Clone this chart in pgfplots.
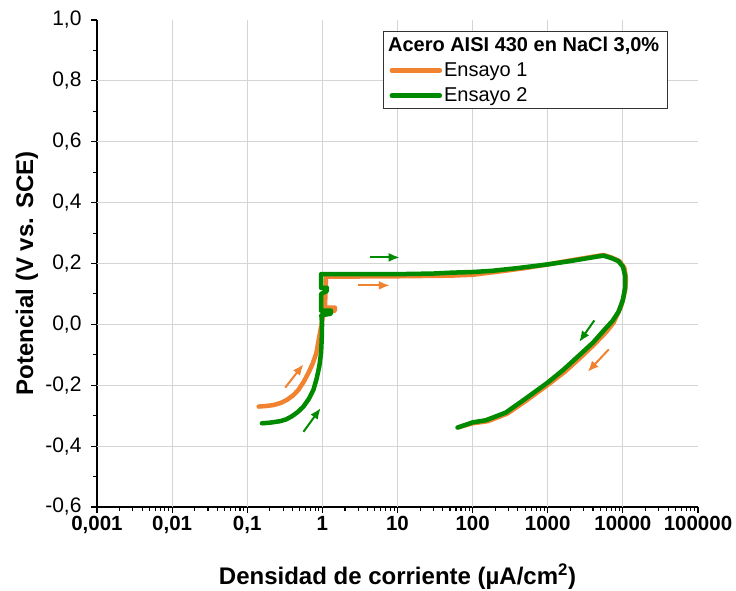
\documentclass[border=0pt]{standalone}
\usepackage{fontspec}
\setmainfont{Liberation Sans}
\usepackage{pgfplots}
\pgfplotsset{compat=1.18}
\usetikzlibrary{arrows.meta}
\definecolor{orng}{RGB}{240,130,48}
\definecolor{grn}{RGB}{0,138,0}
\definecolor{gridc}{RGB}{212,212,212}
\begin{document}
\begin{tikzpicture}
\useasboundingbox (-97pt,-84pt) rectangle (639pt,507pt);
\begin{axis}[
 scale only axis, width=601pt, height=487pt,
 xmode=log, xmin=1e-3, xmax=1e5, ymin=-0.6, ymax=1.0,
 axis x line*=bottom, axis y line*=left,
 axis line style={line width=1.3pt, black},
 tick align=outside,
 major tick length=6pt, minor tick length=4pt,
 every tick/.style={line width=1.1pt, black},
 xtick={1e-3,1e-2,1e-1,1,10,100,1000,10000,100000},
 xticklabels={{0,001},{0,01},{0,1},1,10,100,1000,10000,100000},
 minor xtick={0.002,0.003,0.004,0.005,0.006,0.007,0.008,0.009,
   0.02,0.03,0.04,0.05,0.06,0.07,0.08,0.09,
   0.2,0.3,0.4,0.5,0.6,0.7,0.8,0.9,
   2,3,4,5,6,7,8,9,
   20,30,40,50,60,70,80,90,
   200,300,400,500,600,700,800,900,
   2000,3000,4000,5000,6000,7000,8000,9000,
   20000,30000,40000,50000,60000,70000,80000,90000},
 ytick={-0.6,-0.4,-0.2,0,0.2,0.4,0.6,0.8,1.0},
 minor y tick num=1,
 /pgf/number format/assume math mode=true,
 yticklabel style={font=\fontsize{21}{24}\selectfont, xshift=-6pt,
   /pgf/number format/fixed, /pgf/number format/fixed zerofill,
   /pgf/number format/precision=1, /pgf/number format/use comma},
 xticklabel style={font=\bfseries\fontsize{20.5}{24}\selectfont},
 label style={font=\bfseries\fontsize{24}{28}\selectfont},
 xlabel={Densidad de corriente (µA/cm\textsuperscript{2})},
 ylabel={Potencial (V vs. SCE)},
 xlabel style={at={(axis description cs:0.5,-0.142)}, anchor=center},
 ylabel style={at={(axis description cs:-0.1165,0.48)}, anchor=center},
 extra x ticks={1e-2,1e-1,1,10,100,1000,10000},
 extra x tick labels={},
 extra x tick style={grid=major, major tick length=0pt},
 extra y ticks={-0.4,-0.2,0,0.2,0.4,0.6,0.8},
 extra y tick labels={},
 extra y tick style={grid=major, major tick length=0pt},
 grid style={gridc, line width=1pt},
 legend style={at={(axis description cs:0.476,0.977)}, anchor=north west,
   draw=black!80, line width=1pt, font=\fontsize{20}{24}\selectfont,
   inner xsep=6pt, inner ysep=3pt, row sep=6pt},
 legend cell align=left,
 legend image code/.code={\draw[#1, line width=4.5pt] (0pt,0pt) -- (48pt,0pt);},
]
\addlegendimage{empty legend}
\addlegendentry{\hspace{-56pt}\textbf{Acero AISI 430 en NaCl 3,0\%}}

\addplot[orng, line width=4.5pt, line join=round, line cap=round] coordinates {
(0.142,-0.270) (0.18,-0.268) (0.224,-0.265) (0.28,-0.258) (0.337,-0.248)
(0.41,-0.233) (0.48,-0.215) (0.56,-0.190) (0.65,-0.160) (0.74,-0.130)
(0.83,-0.095) (0.91,-0.040) (1.0,0.015) (1.05,0.040) (1.47,0.045)
(1.47,0.055) (1.08,0.055) (1.10,0.100) (1.12,0.157) (2,0.157)
(10,0.158) (50,0.160) (100,0.163) (200,0.172) (500,0.185) (1000,0.197)
(2000,0.210) (3500,0.220) (5500,0.228) (7000,0.220) (9000,0.208)
(10500,0.185) (11000,0.150) (10700,0.110) (9500,0.060) (7500,0.005)
(6000,-0.025) (4200,-0.065) (2700,-0.110) (1700,-0.155) (1050,-0.195)
(520,-0.250) (290,-0.293) (160,-0.318) (100,-0.325) (65,-0.338)
};
\addlegendentry{Ensayo 1}

\addplot[grn, line width=4.5pt, line join=round, line cap=round] coordinates {
(0.157,-0.325) (0.2,-0.323) (0.275,-0.318) (0.33,-0.312) (0.393,-0.302)
(0.47,-0.288) (0.56,-0.270) (0.66,-0.245) (0.76,-0.215) (0.84,-0.178)
(0.91,-0.138) (0.96,-0.095) (0.98,-0.050) (0.99,0.000) (0.97,0.030)
(1.3,0.035) (1.3,0.045) (0.96,0.045) (0.96,0.100) (1.15,0.110)
(1.15,0.120) (0.96,0.120) (0.96,0.165) (2,0.165) (10,0.165)
(30,0.167) (54,0.170) (100,0.172) (182,0.176) (400,0.185) (1000,0.197)
(2000,0.208) (3500,0.218) (5500,0.226) (7000,0.218) (8700,0.208)
(10000,0.190) (10700,0.160) (10700,0.120) (10000,0.080) (8700,0.040)
(7200,0.010) (5760,-0.016) (4000,-0.060) (2560,-0.104) (1600,-0.150)
(1000,-0.191) (500,-0.245) (275,-0.290) (150,-0.315) (100,-0.322) (63,-0.339)
};
\addlegendentry{Ensayo 2}

% direction arrows
\addplot[forget plot, grn, line width=2pt, -{Latex[length=11pt,width=9pt]}] coordinates {(4.3,0.220) (10.7,0.220)};
\addplot[forget plot, orng, line width=2pt, -{Latex[length=11pt,width=9pt]}] coordinates {(2.96,0.128) (7.9,0.128)};
\addplot[forget plot, grn, line width=2pt, -{Latex[length=11pt,width=9pt]}] coordinates {(4170,0.013) (2620,-0.058)};
\addplot[forget plot, orng, line width=2pt, -{Latex[length=11pt,width=9pt]}] coordinates {(6500,-0.082) (3400,-0.156)};
\addplot[forget plot, orng, line width=2pt, -{Latex[length=11pt,width=9pt]}] coordinates {(0.32,-0.208) (0.56,-0.131)};
\addplot[forget plot, grn, line width=2pt, -{Latex[length=11pt,width=9pt]}] coordinates {(0.56,-0.353) (0.95,-0.275)};
\end{axis}
\end{tikzpicture}
\end{document}
